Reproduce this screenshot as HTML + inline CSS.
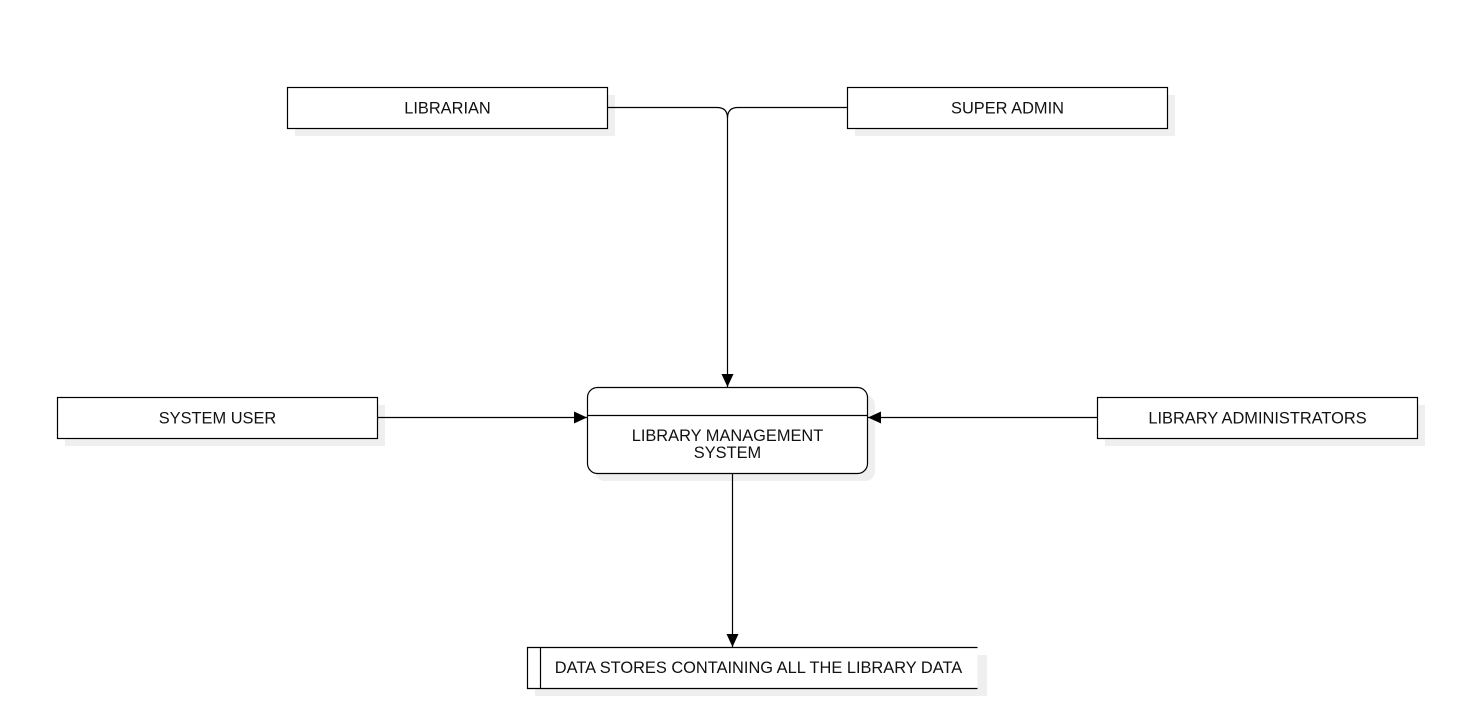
<!DOCTYPE html>
<html><head><meta charset="utf-8"><style>
html,body{margin:0;padding:0;background:#fff;}
svg{display:block;}
text{font-family:"Liberation Sans",Arial,sans-serif;font-size:16.4px;fill:#111;}
</style></head><body>
<svg width="1476" height="727" viewBox="0 0 1476 727" xmlns="http://www.w3.org/2000/svg">
<defs>
<marker id="a" markerWidth="14" markerHeight="14" refX="13" refY="6" orient="auto" markerUnits="userSpaceOnUse">
<path d="M0,0 L13,6 L0,12 Z" fill="#000"/>
</marker>
</defs>
<g fill="#efefef">
<rect x="295" y="95" width="320" height="41"/>
<rect x="855" y="95" width="320" height="41"/>
<rect x="65" y="405" width="320" height="41"/>
<rect x="1105" y="405" width="320" height="41"/>
<rect x="595" y="395" width="280" height="86" rx="10"/>
<rect x="535" y="655" width="452" height="41"/>
</g>
<g fill="#fff" stroke="#000" stroke-width="1.2">
<rect x="287.5" y="87.5" width="320" height="41"/>
<rect x="847.5" y="87.5" width="320" height="41"/>
<rect x="57.5" y="397.5" width="320" height="41"/>
<rect x="1097.5" y="397.5" width="320" height="41"/>
<rect x="587.5" y="387.5" width="280" height="86" rx="10"/>
<rect x="527.5" y="647.5" width="450" height="41" stroke="none"/>
</g>
<g fill="none" stroke="#000" stroke-width="1.2">
<line x1="587.5" y1="415.5" x2="867.5" y2="415.5"/>
<path d="M977.5,647.5 H527.5 V688.5 H977.5"/>
<line x1="540.5" y1="647.5" x2="540.5" y2="688.5"/>
<path d="M607.5,107.5 H717 Q727.5,107.5 727.5,118 V387" marker-end="url(#a)"/>
<path d="M847.5,107.5 H738 Q727.5,107.5 727.5,118"/>
<line x1="377.5" y1="417.5" x2="587" y2="417.5" marker-end="url(#a)"/>
<line x1="1097.5" y1="417.5" x2="868" y2="417.5" marker-end="url(#a)"/>
<line x1="732.5" y1="473.5" x2="732.5" y2="647" marker-end="url(#a)"/>
</g>
<g text-anchor="middle">
<text x="447.5" y="113.5">LIBRARIAN</text>
<text x="1007.5" y="113.5">SUPER ADMIN</text>
<text x="217.5" y="423.5">SYSTEM USER</text>
<text x="1257.5" y="423.5">LIBRARY ADMINISTRATORS</text>
<text x="727.5" y="441">LIBRARY MANAGEMENT</text>
<text x="727.5" y="458">SYSTEM</text>
<text x="758.5" y="673">DATA STORES CONTAINING ALL THE LIBRARY DATA</text>
</g>
</svg>
</body></html>
